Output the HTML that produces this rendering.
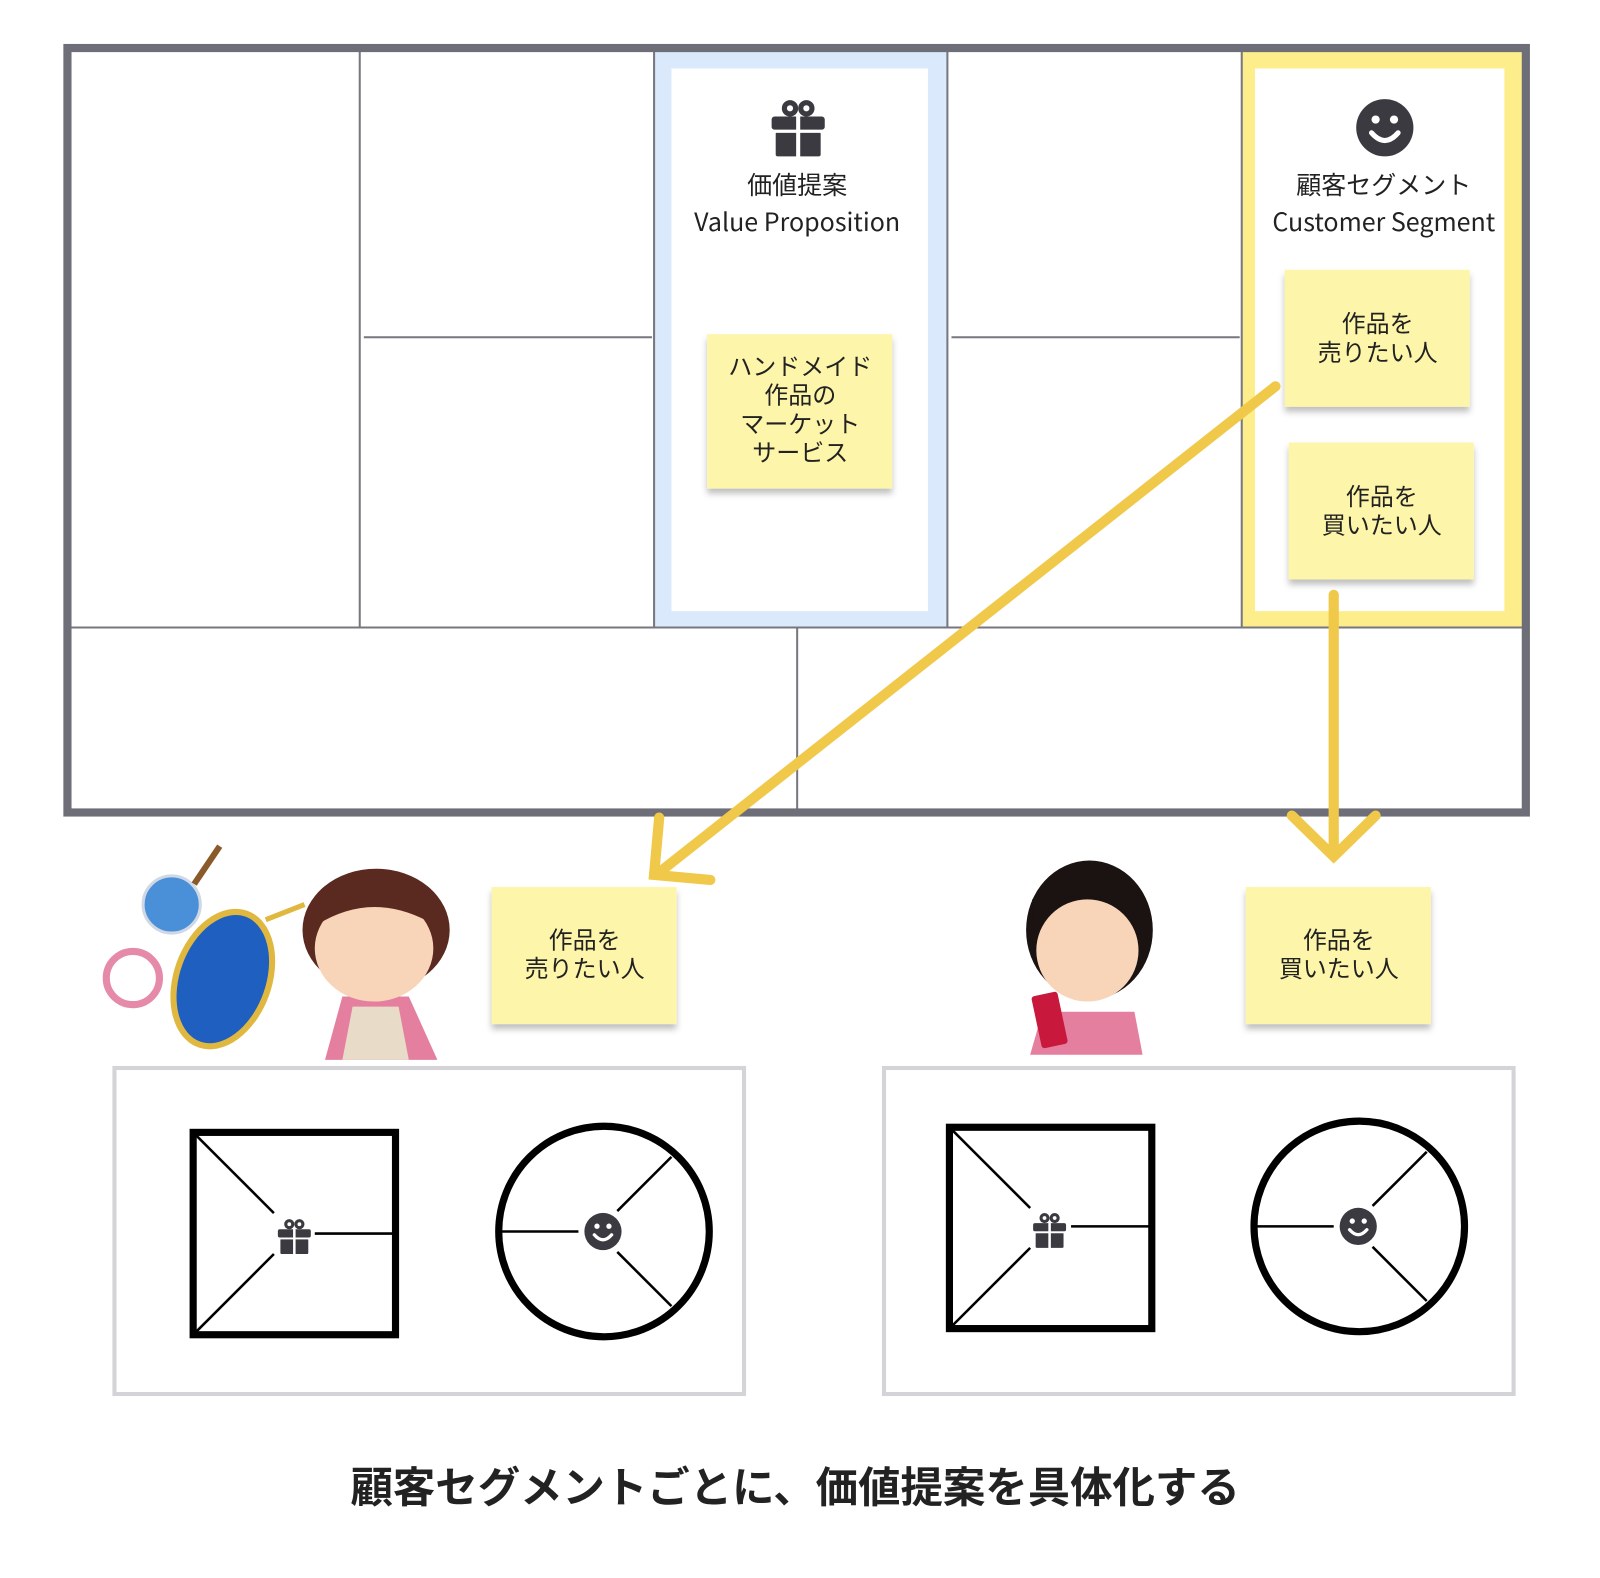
<!DOCTYPE html>
<html><head><meta charset="utf-8"><style>
body{margin:0;background:#fff}
svg text{font-family:"Noto Sans CJK JP","Liberation Sans",sans-serif;fill:#222}
</style></head><body>
<svg width="1600" height="1573" viewBox="0 0 1600 1573" xmlns="http://www.w3.org/2000/svg">
<defs>
<filter id="sh" x="-10%" y="-10%" width="130%" height="140%"><feDropShadow dx="0" dy="5" stdDeviation="3" flood-color="#000" flood-opacity="0.25"/></filter>
<g id="gift"><rect x="-26" y="-10" width="52" height="13" rx="3" fill="#3a3a40"/><rect x="-22" y="5" width="44" height="24" rx="2" fill="#3a3a40"/><circle cx="-8" cy="-18" r="8" fill="#3a3a40"/><circle cx="8" cy="-18" r="8" fill="#3a3a40"/><circle cx="-8" cy="-18" r="3" fill="#fff"/><circle cx="8" cy="-18" r="3" fill="#fff"/><rect x="-2" y="-12" width="4" height="42" fill="#fff"/><rect x="-26" y="3" width="52" height="3" fill="#fff"/></g>
<g id="smile"><circle r="28" fill="#3a3a40"/><circle cx="-9" cy="-8" r="4" fill="#fff"/><circle cx="9" cy="-8" r="4" fill="#fff"/><path d="M-13 5 Q0 20 13 5" stroke="#fff" stroke-width="5" fill="none" stroke-linecap="round"/></g>
</defs>
<g transform="scale(1.022)">
<rect x="640" y="50" width="287" height="564" fill="#dbe9fd"/><rect x="657" y="67" width="251" height="531" fill="#fff"/>
<rect x="1215" y="50" width="275" height="564" fill="#fdee8b"/><rect x="1228" y="67" width="244" height="531" fill="#fff"/>
<g stroke="#77777f" stroke-width="2" fill="none">
<line x1="352" y1="47" x2="352" y2="614"/><line x1="640" y1="47" x2="640" y2="614"/><line x1="927" y1="47" x2="927" y2="614"/><line x1="1215" y1="47" x2="1215" y2="614"/>
<line x1="66" y1="614" x2="1493" y2="614"/><line x1="356" y1="330" x2="638" y2="330"/><line x1="931" y1="330" x2="1213" y2="330"/><line x1="780" y1="614" x2="780" y2="795"/>
</g>
<rect x="66" y="47" width="1427" height="748" fill="none" stroke="#6e6e78" stroke-width="8"/>
<use href="#gift" transform="translate(781,124)"/>
<use href="#smile" transform="translate(1355,125)"/>
<g font-size="24.5" text-anchor="middle">
<text x="780" y="190">価値提案</text><text x="780" y="226">Value Proposition</text>
<text x="1354" y="190">顧客セグメント</text><text x="1354" y="226">Customer Segment</text>
</g>
<g filter="url(#sh)" fill="#fdf5a9">
<rect x="692" y="327" width="181" height="151"/><rect x="1257" y="264" width="181" height="134"/><rect x="1261" y="433" width="181" height="134"/>
<rect x="481" y="868" width="181" height="134"/><rect x="1219" y="868" width="181" height="134"/>
</g>
<g font-size="23.5" text-anchor="middle">
<text x="783" y="367">ハンドメイド</text><text x="783" y="395">作品の</text><text x="783" y="423">マーケット</text><text x="783" y="451">サービス</text>
<text x="1348" y="325">作品を</text><text x="1348" y="353">売りたい人</text>
<text x="1352" y="494">作品を</text><text x="1352" y="522">買いたい人</text>
<text x="572" y="928">作品を</text><text x="572" y="956">売りたい人</text>
<text x="1310" y="928">作品を</text><text x="1310" y="956">買いたい人</text>
</g>
<g stroke="#f0c84a" stroke-width="10" fill="none" stroke-linecap="round">
<line x1="1248" y1="378" x2="642" y2="856"/><polyline points="645,800 640,856 695,861"/>
<line x1="1305" y1="582" x2="1305" y2="836"/><polyline points="1264,798 1305,838 1346,798"/>
</g>
<g>
<circle cx="168" cy="885" r="28" fill="#4a90d9" stroke="#cfd8e4" stroke-width="3"/>
<path d="M190 865 L215 828" stroke="#8a5a2b" stroke-width="6"/>
<circle cx="130" cy="957" r="26" fill="none" stroke="#e58aa8" stroke-width="7"/>
<ellipse cx="218" cy="958" rx="45" ry="68" transform="rotate(20 218 958)" fill="#1e5fc0" stroke="#e0b840" stroke-width="6"/>
<path d="M260 900 L298 885" stroke="#e0b840" stroke-width="5"/>
<path d="M318 1037 L335 975 L400 975 L428 1037Z" fill="#e57fa0"/><path d="M335 1037 L345 985 L390 985 L400 1037Z" fill="#e8dcc8"/>
<ellipse cx="368" cy="910" rx="72" ry="60" fill="#5a2a20"/><ellipse cx="366" cy="928" rx="58" ry="52" fill="#f8d5b8"/>
<path d="M310 905 Q366 840 425 905 Q366 870 310 905Z" fill="#5a2a20"/>
<path d="M1008 1032 L1020 990 L1110 990 L1118 1032Z" fill="#e57fa0"/>
<ellipse cx="1066" cy="910" rx="62" ry="68" fill="#1b1212"/><ellipse cx="1064" cy="930" rx="50" ry="50" fill="#f8d5b8"/>
<path d="M1010 900 Q1060 850 1115 905 L1115 880 Q1066 830 1010 880Z" fill="#1b1212"/>
<rect x="1014" y="972" width="26" height="52" rx="3" fill="#c8193c" transform="rotate(-12 1027 998)"/>
</g>
<rect x="112" y="1045" width="616" height="319" fill="#fff" stroke="#d4d4d8" stroke-width="4"/>
<rect x="865" y="1045" width="616" height="319" fill="#fff" stroke="#d4d4d8" stroke-width="4"/>
<g stroke="#000" fill="none">
<rect x="189" y="1108" width="198" height="198" stroke-width="7"/>
<g stroke-width="2.5"><line x1="192" y1="1111" x2="268" y2="1187"/><line x1="192" y1="1303" x2="268" y2="1227"/><line x1="308" y1="1207" x2="384" y2="1207"/></g>
<circle cx="591" cy="1205" r="103" stroke-width="7"/>
<g stroke-width="2.5"><line x1="488" y1="1205" x2="566" y2="1205"/><line x1="604" y1="1185" x2="657" y2="1132"/><line x1="604" y1="1225" x2="657" y2="1278"/></g>
<rect x="929" y="1103" width="198" height="197" stroke-width="7"/>
<g stroke-width="2.5"><line x1="932" y1="1106" x2="1008" y2="1182"/><line x1="932" y1="1297" x2="1008" y2="1221"/><line x1="1048" y1="1200" x2="1124" y2="1200"/></g>
<circle cx="1330" cy="1200" r="103" stroke-width="7"/>
<g stroke-width="2.5"><line x1="1227" y1="1200" x2="1305" y2="1200"/><line x1="1343" y1="1180" x2="1396" y2="1127"/><line x1="1343" y1="1220" x2="1396" y2="1273"/></g>
</g>
<use href="#gift" transform="translate(288,1209) scale(0.62)"/>
<use href="#smile" transform="translate(590,1205) scale(0.65)"/>
<use href="#gift" transform="translate(1027,1203) scale(0.62)"/>
<use href="#smile" transform="translate(1329,1200) scale(0.65)"/>
<text x="778" y="1470" font-size="41.5" font-weight="bold" text-anchor="middle">顧客セグメントごとに、価値提案を具体化する</text>
</g>
</svg>
</body></html>
